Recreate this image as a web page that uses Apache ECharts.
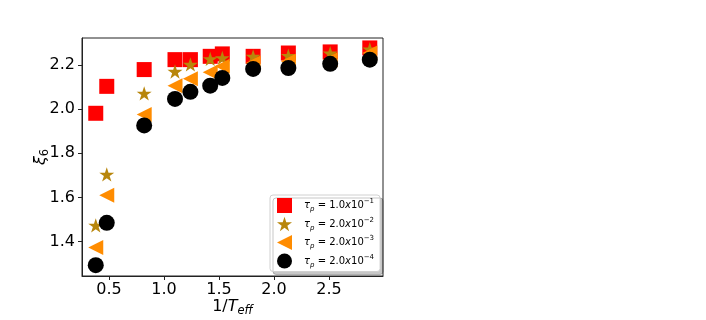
<!DOCTYPE html>
<html>
<head>
<meta charset="utf-8">
<script src="https://cdn.jsdelivr.net/npm/echarts@6/dist/echarts.min.js"></script>
<style>html,body{margin:0;padding:0;background:#fff}#c{width:706px;height:320px}</style>
</head>
<body>
<div id="c"></div>
<script>
// ---- data ----
const xVals = [0.38, 0.48, 0.82, 1.10, 1.24, 1.42, 1.53, 1.81, 2.13, 2.51, 2.87];
const tau1e1 = [1.981, 2.103, 2.179, 2.224, 2.224, 2.239, 2.250, 2.239, 2.254, 2.259, 2.277];
const tau2e2 = [1.470, 1.701, 2.068, 2.167, 2.199, 2.224, 2.229, 2.235, 2.239, 2.250, 2.268];
const tau2e3 = [1.373, 1.610, 1.975, 2.106, 2.137, 2.167, 2.194, 2.209, 2.217, 2.224, 2.254];
const tau2e4 = [1.293, 1.485, 1.926, 2.046, 2.078, 2.106, 2.141, 2.182, 2.186, 2.205, 2.224];
const xTicks = [0.5, 1.0, 1.5, 2.0, 2.5];
const yTicks = [1.4, 1.6, 1.8, 2.0, 2.2];
const seriesNames = ['s1', 's2', 's3', 's4'];
const legendMant = ['1.0', '2.0', '2.0', '2.0'];
const legendExp = ['\u22121', '\u22122', '\u22123', '\u22124'];

const STAR = 'path://M10,0 L12.245,6.91 L19.511,6.91 L13.633,11.18 L15.878,18.09 L10,13.82 L4.122,18.09 L6.367,11.18 L0.489,6.91 L7.755,6.91 Z';
const TRI_LEFT = 'path://M0,10 L20,0 L20,20 Z';

function pairs(ys) { return xVals.map((x, i) => [x, ys[i]]); }

const chart = echarts.init(document.getElementById('c'), null, {renderer: 'canvas'});
const FONT = 'DejaVu Sans';
const axisCol = '#222';

const seriesDefs = [
  {data: tau1e1, symbol: 'rect', size: 15, color: '#ff0000'},
  {data: tau2e2, symbol: STAR, size: [15, 14.3], color: '#b8860b', offset: [0, -0.7]},
  {data: tau2e3, symbol: TRI_LEFT, size: [15, 15], color: '#ff8c00'},
  {data: tau2e4, symbol: 'circle', size: 16, color: '#000000'}
];

const option = {
  animation: false,
  backgroundColor: '#fff',
  grid: {left: 82, top: 38, right: 323, bottom: 44, containLabel: false, outerBoundsMode: 'none',
    show: true, borderColor: axisCol, borderWidth: 1, backgroundColor: 'transparent'},
  xAxis: {
    type: 'value', min: 0.255, max: 2.99,
    splitLine: {show: false},
    axisLine: {show: true, onZero: false, lineStyle: {color: axisCol, width: 1}},
    axisTick: {show: true, inside: false, length: 4, customValues: xTicks, lineStyle: {color: axisCol}},
    axisLabel: {customValues: xTicks, margin: 6, color: '#000', fontFamily: FONT, fontSize: 16,
      formatter: v => v.toFixed(1)},
    name: '{a|1/}{i|T}{s|eff}', nameLocation: 'middle', nameGap: 21, nameMoveOverlap: false,
    nameTextStyle: {rich: {
      a: {fontFamily: FONT, fontSize: 16, color: '#000', lineHeight: 20},
      i: {fontFamily: FONT, fontSize: 16, fontStyle: 'italic', color: '#000', lineHeight: 20},
      s: {fontFamily: FONT, fontSize: 11.5, fontStyle: 'italic', color: '#000', lineHeight: 12, verticalAlign: 'bottom'}
    }}
  },
  yAxis: {
    type: 'value', min: 1.244, max: 2.322,
    splitLine: {show: false},
    axisLine: {show: true, onZero: false, lineStyle: {color: axisCol, width: 1}},
    axisTick: {show: true, inside: false, length: 4, customValues: yTicks, lineStyle: {color: axisCol}},
    axisLabel: {customValues: yTicks, margin: 7, color: '#000', fontFamily: FONT, fontSize: 16,
      formatter: v => v.toFixed(1)},
    name: '{i|\u03be}{s|6}', nameLocation: 'middle', nameGap: 31, nameMoveOverlap: false,
    nameTextStyle: {rich: {
      i: {fontFamily: FONT, fontSize: 16, fontStyle: 'italic', color: '#000', lineHeight: 20},
      s: {fontFamily: FONT, fontSize: 11.5, color: '#000', lineHeight: 12, verticalAlign: 'bottom'}
    }}
  },
  legend: {
    orient: 'vertical', left: 270, top: 195,
    data: seriesNames,
    itemWidth: 15, itemHeight: 15, itemGap: 3.5,
    padding: [3, 6, 3, 7],
    backgroundColor: '#fff', borderColor: '#d0d0d0', borderWidth: 1, borderRadius: 3,
    shadowColor: 'rgba(0,0,0,0.22)', shadowOffsetX: 3, shadowOffsetY: 3, shadowBlur: 0,
    formatter: function (name) {
      const i = seriesNames.indexOf(name);
      return '{t|\u03c4}{s|p}{n| = ' + legendMant[i] + '}{x|x}{n|10}{u|' + legendExp[i] + '}';
    },
    textStyle: {
      padding: [0, 0, 0, 7],
      rich: {
        t: {fontFamily: FONT, fontSize: 10, fontStyle: 'italic', color: '#000', lineHeight: 15},
        s: {fontFamily: FONT, fontSize: 7, fontStyle: 'italic', color: '#000', lineHeight: 9, verticalAlign: 'bottom'},
        n: {fontFamily: FONT, fontSize: 10, color: '#000', lineHeight: 15},
        x: {fontFamily: FONT, fontSize: 10, fontStyle: 'italic', color: '#000', lineHeight: 15},
        u: {fontFamily: FONT, fontSize: 7, color: '#000', lineHeight: 9, verticalAlign: 'top'}
      }
    }
  },
  series: seriesDefs.map((d, i) => ({
    name: seriesNames[i],
    type: 'scatter',
    data: pairs(d.data),
    symbol: d.symbol,
    symbolSize: d.size,
    symbolOffset: d.offset || [0, 0],
    itemStyle: {color: d.color, opacity: 1},
    emphasis: {disabled: true},
    z: 2 + i
  }))
};
chart.setOption(option);
</script>
</body>
</html>
